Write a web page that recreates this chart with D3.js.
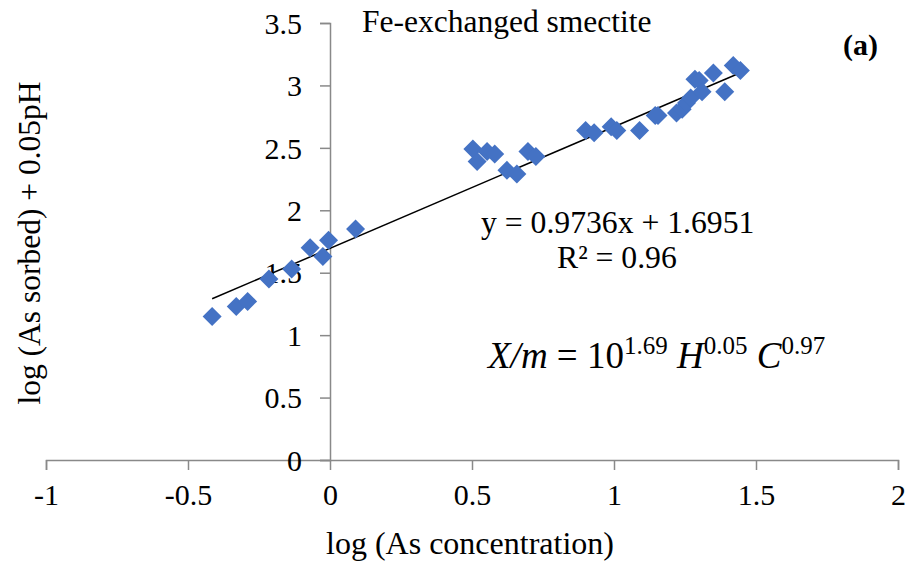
<!DOCTYPE html>
<html>
<head>
<meta charset="utf-8">
<script src="https://cdn.jsdelivr.net/npm/d3@7"></script>
<style>
  body { margin: 0; background: #fff; }
  text { font-family: "Liberation Serif", "Times New Roman", serif; fill: #000; }
</style>
</head>
<body>
<div class="chart"></div>
<script>
// data
var logC = [-0.415, -0.33, -0.29, -0.215, -0.135, -0.07, -0.025, -0.005, 0.09,
  0.503, 0.518, 0.553, 0.58, 0.623, 0.658, 0.697, 0.725,
  0.90, 0.93, 0.99, 1.01, 1.09, 1.145, 1.155, 1.22, 1.24, 1.255, 1.27, 1.285, 1.30, 1.31, 1.35, 1.39, 1.42, 1.445];
var logS = [1.15, 1.23, 1.27, 1.45, 1.53, 1.70, 1.63, 1.76, 1.85,
  2.49, 2.39, 2.47, 2.45, 2.32, 2.29, 2.47, 2.43,
  2.64, 2.62, 2.67, 2.64, 2.64, 2.76, 2.76, 2.78, 2.81, 2.86, 2.90, 3.05, 3.04, 2.95, 3.10, 2.95, 3.16, 3.12];
var fit = { slope: 0.9736, intercept: 1.6951, r2: 0.96 };
var xTicks = [-1, -0.5, 0, 0.5, 1, 1.5, 2];
var yTicks = [0, 0.5, 1, 1.5, 2, 2.5, 3, 3.5];

var svgWidth = 909;
var svgHeight = 565;

var svg = d3.select(".chart")
  .append("svg")
  .attr("width", svgWidth)
  .attr("height", svgHeight);

var xScale = d3.scaleLinear().domain([-1, 2]).range([46, 898]);
var yScale = d3.scaleLinear().domain([0, 3.5]).range([460, 23]);

var axisColor = "#898989";

// x axis sits at y = 0
var xAxis = svg.append("g")
  .attr("transform", `translate(0, ${yScale(0)})`)
  .call(d3.axisBottom(xScale).tickValues(xTicks).tickSize(10).tickPadding(14)
    .tickFormat(d => String(d)));
// y axis sits at x = 0
var yAxis = svg.append("g")
  .attr("transform", `translate(${xScale(0)}, 0)`)
  .call(d3.axisLeft(yScale).tickValues(yTicks).tickSize(10).tickPadding(18)
    .tickFormat(d => String(d)));

[xAxis, yAxis].forEach(function (g) {
  g.select(".domain").attr("stroke", axisColor).attr("stroke-width", 1.5);
  g.selectAll(".tick line").attr("stroke", axisColor).attr("stroke-width", 1.5);
  g.selectAll(".tick text")
    .style("font-family", "Liberation Serif, Times New Roman, serif")
    .style("font-size", "30px")
    .attr("fill", "#000");
});
yAxis.selectAll(".tick text").attr("dy", "0.34em");

// trend line
var xMin = d3.min(logC), xMax = d3.max(logC);
var lineData = [xMin, xMax].map(x => [x, fit.slope * x + fit.intercept]);
svg.append("path")
  .datum(lineData)
  .attr("d", d3.line().x(d => xScale(d[0])).y(d => yScale(d[1])))
  .attr("stroke", "#000")
  .attr("stroke-width", 1.5)
  .attr("fill", "none");

// diamond markers
var r = 9.5;
svg.selectAll(".pt")
  .data(logC)
  .enter()
  .append("path")
  .attr("class", "pt")
  .attr("transform", (d, i) => `translate(${xScale(d)}, ${yScale(logS[i])})`)
  .attr("d", `M0,${-r}L${r},0L0,${r}L${-r},0Z`)
  .attr("fill", "#4472C4");

// labels
svg.append("text")
  .attr("x", 362).attr("y", 32)
  .style("font-size", "31.5px")
  .text("Fe-exchanged smectite");

svg.append("text")
  .attr("x", 878).attr("y", 55)
  .attr("text-anchor", "end")
  .style("font-size", "30px")
  .style("font-weight", "bold")
  .text("(a)");

svg.append("text")
  .attr("transform", "translate(40, 243) rotate(-90)")
  .attr("text-anchor", "middle")
  .style("font-size", "31.5px")
  .text("log (As sorbed) + 0.05pH");

svg.append("text")
  .attr("x", 470).attr("y", 554)
  .attr("text-anchor", "middle")
  .style("font-size", "32px")
  .text("log (As concentration)");

svg.append("text")
  .attr("x", 481).attr("y", 233)
  .style("font-size", "31.7px")
  .text(`y = ${fit.slope}x + ${fit.intercept}`);

svg.append("text")
  .attr("x", 557).attr("y", 268)
  .style("font-size", "31.7px")
  .text(`R² = ${fit.r2}`);

var eq = svg.append("text")
  .attr("x", 488).attr("y", 368)
  .style("font-size", "37px");
eq.append("tspan").style("font-style", "italic").text("X/m");
eq.append("tspan").text(" = 10");
eq.append("tspan").attr("dy", -14).style("font-size", "25px").text("1.69");
eq.append("tspan").attr("dy", 14).style("font-style", "italic").text(" H");
eq.append("tspan").attr("dy", -14).style("font-size", "25px").text("0.05");
eq.append("tspan").attr("dy", 14).style("font-style", "italic").text(" C");
eq.append("tspan").attr("dy", -14).style("font-size", "25px").text("0.97");
</script>
</body>
</html>
